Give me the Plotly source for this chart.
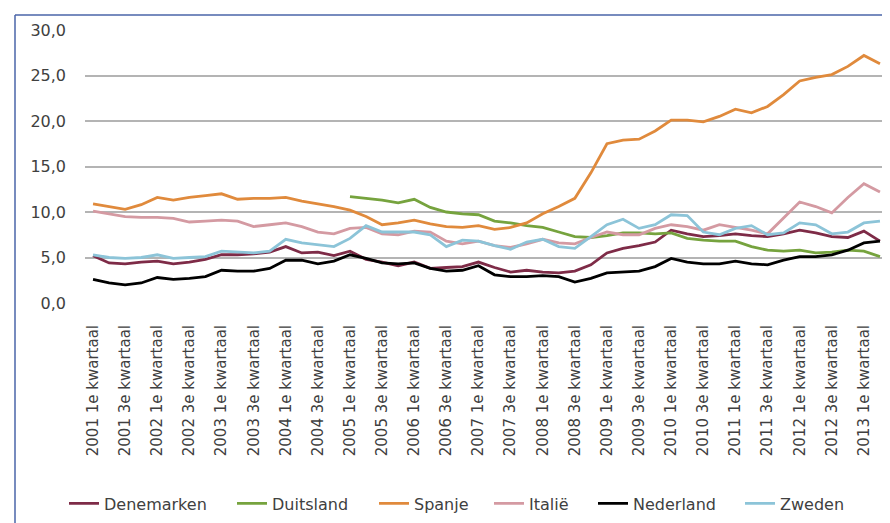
import plotly.graph_objects as go

years = list(range(2001, 2014))
quarters = ["1e", "2e", "3e", "4e"]
categories = [f"{y} {q} kwartaal" for y in years for q in quarters][:50]
tick_labels = categories[::2]

denemarken = [5.2, 4.4, 4.3, 4.5, 4.6, 4.3, 4.5, 4.8, 5.3, 5.3, 5.4, 5.6, 6.2, 5.5, 5.6, 5.2,
              5.7, 4.8, 4.5, 4.1, 4.5, 3.8, 3.9, 4.0, 4.5, 3.9, 3.4, 3.6, 3.4, 3.3, 3.5, 4.2,
              5.5, 6.0, 6.3, 6.7, 8.0, 7.6, 7.3, 7.4, 7.6, 7.4, 7.3, 7.6, 8.0, 7.7, 7.3, 7.2,
              7.9, 6.8]
duitsland = [None] * 16 + [11.7, 11.5, 11.3, 11.0, 11.4, 10.5, 10.0, 9.8, 9.7, 9.0, 8.8, 8.5,
                           8.3, 7.8, 7.3, 7.2, 7.4, 7.7, 7.7, 7.6, 7.7, 7.1, 6.9, 6.8, 6.8, 6.2,
                           5.8, 5.7, 5.8, 5.5, 5.6, 5.8, 5.7, 5.1]
spanje = [10.9, 10.6, 10.3, 10.8, 11.6, 11.3, 11.6, 11.8, 12.0, 11.4, 11.5, 11.5, 11.6, 11.2,
          10.9, 10.6, 10.2, 9.5, 8.6, 8.8, 9.1, 8.7, 8.4, 8.3, 8.5, 8.1, 8.3, 8.8, 9.8, 10.6,
          11.5, 14.3, 17.5, 17.9, 18.0, 18.9, 20.1, 20.1, 19.9, 20.5, 21.3, 20.9, 21.6, 22.9,
          24.4, 24.8, 25.1, 26.0, 27.2, 26.3]
italie = [10.1, 9.8, 9.5, 9.4, 9.4, 9.3, 8.9, 9.0, 9.1, 9.0, 8.4, 8.6, 8.8, 8.4, 7.8, 7.6,
          8.2, 8.3, 7.6, 7.5, 7.9, 7.8, 6.8, 6.5, 6.8, 6.3, 6.1, 6.5, 7.0, 6.6, 6.5, 7.2,
          7.8, 7.5, 7.5, 8.2, 8.6, 8.4, 8.0, 8.6, 8.3, 8.0, 7.6, 9.3, 11.1, 10.6, 9.9, 11.6,
          13.1, 12.2]
nederland = [2.6, 2.2, 2.0, 2.2, 2.8, 2.6, 2.7, 2.9, 3.6, 3.5, 3.5, 3.8, 4.7, 4.7, 4.3, 4.6,
             5.3, 4.9, 4.4, 4.3, 4.4, 3.8, 3.5, 3.6, 4.1, 3.1, 2.9, 2.9, 3.0, 2.9, 2.3, 2.7,
             3.3, 3.4, 3.5, 4.0, 4.9, 4.5, 4.3, 4.3, 4.6, 4.3, 4.2, 4.7, 5.1, 5.1, 5.3, 5.8,
             6.6, 6.8]
zweden = [5.3, 5.0, 4.9, 5.0, 5.3, 4.9, 5.0, 5.1, 5.7, 5.6, 5.5, 5.7, 7.0, 6.6, 6.4, 6.2,
          7.1, 8.5, 7.8, 7.8, 7.8, 7.5, 6.2, 6.9, 6.8, 6.3, 5.9, 6.7, 7.0, 6.2, 6.0, 7.3,
          8.6, 9.2, 8.2, 8.6, 9.7, 9.6, 7.8, 7.5, 8.2, 8.5, 7.5, 7.7, 8.8, 8.6, 7.6, 7.8,
          8.8, 9.0]

names = ["Denemarken", "Duitsland", "Spanje", "Italië", "Nederland", "Zweden"]
values = [denemarken, duitsland, spanje, italie, nederland, zweden]
colors = ["#7E2B47", "#76A33E", "#E08A3C", "#D49AA2", "#000000", "#8CC4D8"]
legend_text_x = [105, 273, 415, 530, 634, 781]

W, H = 890, 523
L, R, T, B = 77, 10, 22, 226
pw, ph = W - L - R, H - T - B

def px(xp):
    return (xp - L) / pw

def py(yp):
    return (H - B - yp) / ph

fig = go.Figure()
legends = {}
for k, (name, vals, color, tx) in enumerate(zip(names, values, colors, legend_text_x)):
    lname = "legend" if k == 0 else f"legend{k + 1}"
    fig.add_trace(go.Scatter(x=categories, y=vals, name=name, mode="lines",
                             line=dict(color=color, width=2.8), connectgaps=False,
                             legend=lname))
    legends[lname] = dict(x=px(tx - 49), y=py(499), xanchor="left", yanchor="middle",
                          orientation="h", font=dict(size=16, color="#404040"),
                          bgcolor="rgba(0,0,0,0)", borderwidth=0)

fig.update_layout(
    width=W, height=H,
    margin=dict(l=L, r=R, t=T, b=B),
    paper_bgcolor="white", plot_bgcolor="white",
    separators=",.",
    font=dict(family="DejaVu Sans", color="#404040"),
    showlegend=True,
    shapes=[
        dict(type="line", xref="paper", yref="paper", x0=px(7), x1=px(7), y0=py(7), y1=py(523),
             line=dict(color="#4A64A8", width=1.5)),
        dict(type="line", xref="paper", yref="paper", x0=px(7), x1=px(890), y0=py(7), y1=py(7),
             line=dict(color="#4A64A8", width=1.5)),
    ],
    **legends,
)
fig.update_xaxes(type="category", range=[-0.5, 49.5], tickvals=tick_labels, ticktext=tick_labels,
                 tickangle=-90, tickfont=dict(size=15, color="#404040"), showgrid=False,
                 showline=False, ticks="", zeroline=False, ticklabelstandoff=18)
fig.update_yaxes(range=[0, 30], dtick=5, tickformat=".1f", showgrid=True, gridcolor="#B4B4B4",
                 gridwidth=2, zeroline=False, showline=False, ticks="",
                 tickfont=dict(size=16, color="#404040"), ticklabelstandoff=18)

fig.write_html("out.html")
